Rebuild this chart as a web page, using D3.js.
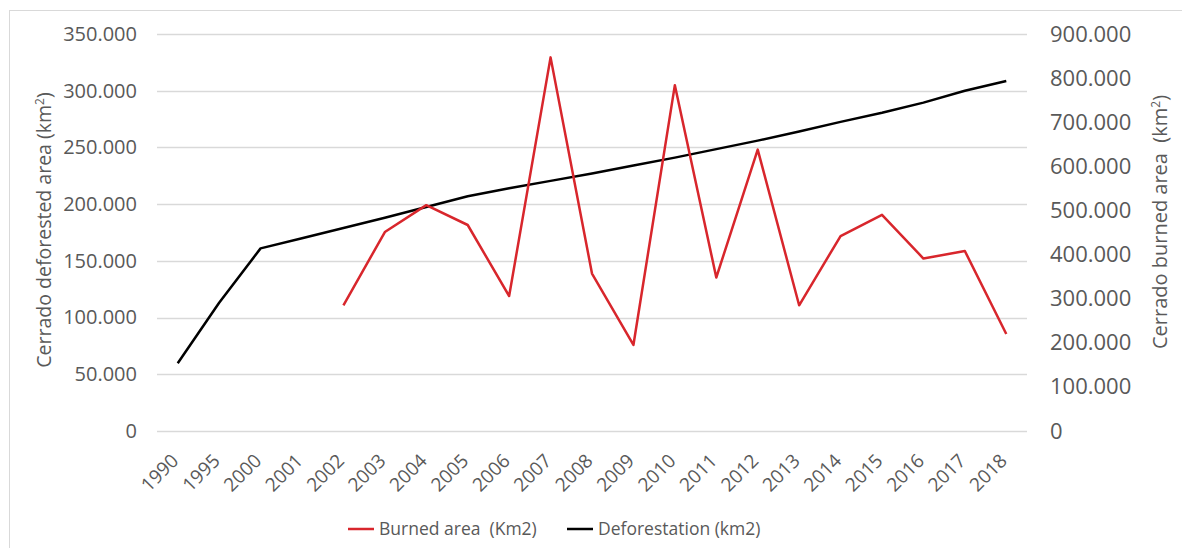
<!DOCTYPE html>
<html>
<head>
<meta charset="utf-8">
<script src="https://cdn.jsdelivr.net/npm/d3@7"></script>
<style>
  body { margin: 0; background: #fff; }
  text { font-family: "Open Sans", "Noto Sans", sans-serif; }
</style>
</head>
<body>
<div id="wrap"></div>
<script>
// categorias e series
const years = ["1990", "1995", "2000", "2001", "2002", "2003", "2004", "2005", "2006", "2007",
  "2008", "2009", "2010", "2011", "2012", "2013", "2014", "2015", "2016", "2017", "2018"];
const deforestation = [59700, 113000, 161000, 170000, 179000, 188000, 197500, 207000, 214000, 220500,
  227000, 234000, 241000, 248500, 256000, 264000, 272500, 280500, 289500, 300000, 308500];
const burned = [null, null, null, null, 285000, 451000, 512000, 467000, 306000, 847000,
  357000, 195000, 784000, 348000, 638000, 285000, 442000, 490000, 391000, 408000, 220000];
const leftTicks = [0, 50000, 100000, 150000, 200000, 250000, 300000, 350000];
const rightTicks = [0, 100000, 200000, 300000, 400000, 500000, 600000, 700000, 800000, 900000];

const width = 1182;
const height = 548;
const textColor = "#595959";
const gridColor = "#d9d9d9";
const redColor = "#d8262c";
const blackColor = "#000";

const fmt = d3.formatLocale({ decimal: ",", thousands: ".", grouping: [3], currency: ["", ""] }).format(",");

let svg = d3.select("#wrap")
  .append("svg")
  .attr("width", width)
  .attr("height", height);

// borda
svg.append("rect")
  .attr("x", 9.5).attr("y", 10.5)
  .attr("width", 1180).attr("height", 545)
  .attr("fill", "none")
  .attr("stroke", "#d9d9d9");

// escalas
let xScale = d3.scaleBand().domain(years).range([157, 1027]).padding(0);
const cx = d => xScale(d) + xScale.bandwidth() / 2;
let yLeft = d3.scaleLinear().domain([0, 350000]).range([431, 34]);
let yRight = d3.scaleLinear().domain([0, 900000]).range([431, 34]);

// grade
svg.append("g")
  .selectAll("line")
  .data(leftTicks)
  .enter()
  .append("line")
  .attr("x1", 157).attr("x2", 1027)
  .attr("y1", d => Math.round(yLeft(d)) + 0.5)
  .attr("y2", d => Math.round(yLeft(d)) + 0.5)
  .attr("stroke", gridColor)
  .attr("stroke-width", 1.3);

// eixo esquerdo
const gLeft = svg.append("g").attr("transform", "translate(145,0)");
d3.axisLeft(yLeft).tickValues(leftTicks).tickSize(0).tickPadding(8).tickFormat(fmt)(gLeft);
gLeft.select(".domain").remove();
gLeft.selectAll("text").attr("fill", textColor).style("font-size", "20px");

// eixo direito
const gRight = svg.append("g").attr("transform", "translate(1042,0)");
d3.axisRight(yRight).tickValues(rightTicks).tickSize(0).tickPadding(8).tickFormat(fmt)(gRight);
gRight.select(".domain").remove();
gRight.selectAll("text").attr("fill", textColor).style("font-size", "22px");

// eixo x
const gX = svg.append("g").attr("transform", "translate(0,431)");
d3.axisBottom(xScale).tickSize(0)(gX);
gX.select(".domain").remove();
gX.selectAll("text")
  .attr("fill", textColor)
  .style("font-size", "19px")
  .attr("text-anchor", "end")
  .attr("y", 0)
  .attr("dy", 0)
  .attr("transform", "translate(2,31) rotate(-45)");

// titulos dos eixos
const leftTitle = svg.append("text")
  .attr("transform", "translate(51,230) rotate(-90)")
  .attr("text-anchor", "middle")
  .attr("fill", textColor)
  .style("font-size", "19.5px");
leftTitle.append("tspan").text("Cerrado deforested area (km");
leftTitle.append("tspan").attr("dy", -7).style("font-size", "12px").text("2");
leftTitle.append("tspan").attr("dy", 7).text(")");

const rightTitle = svg.append("text")
  .attr("transform", "translate(1167,222) rotate(-90)")
  .attr("text-anchor", "middle")
  .attr("fill", textColor)
  .style("font-size", "20px");
rightTitle.append("tspan").attr("xml:space", "preserve").text("Cerrado burned area  (km");
rightTitle.append("tspan").attr("dy", -7).style("font-size", "12px").text("2");
rightTitle.append("tspan").attr("dy", 7).text(")");

// linhas
const lineDef = d3.line()
  .x((d, i) => cx(years[i]))
  .y(d => yLeft(d));
svg.append("path")
  .datum(deforestation)
  .attr("d", lineDef)
  .attr("fill", "none")
  .attr("stroke", blackColor)
  .attr("stroke-width", 2.5)
  .attr("stroke-linejoin", "round");

const lineBurn = d3.line()
  .defined(d => d !== null)
  .x((d, i) => cx(years[i]))
  .y(d => yRight(d));
svg.append("path")
  .datum(burned)
  .attr("d", lineBurn)
  .attr("fill", "none")
  .attr("stroke", redColor)
  .attr("stroke-width", 2.5)
  .attr("stroke-linejoin", "round");

// legenda
const legend = [
  { name: "Burned area  (Km2)", color: redColor, x: 348 },
  { name: "Deforestation (km2)", color: blackColor, x: 567 }
];
const gLeg = svg.append("g");
legend.forEach(l => {
  gLeg.append("line")
    .attr("x1", l.x).attr("x2", l.x + 26)
    .attr("y1", 529).attr("y2", 529)
    .attr("stroke", l.color)
    .attr("stroke-width", 2.5);
  gLeg.append("text")
    .attr("x", l.x + 31).attr("y", 535)
    .attr("fill", textColor)
    .attr("xml:space", "preserve")
    .style("font-size", "17.5px")
    .text(l.name);
});
</script>
</body>
</html>
